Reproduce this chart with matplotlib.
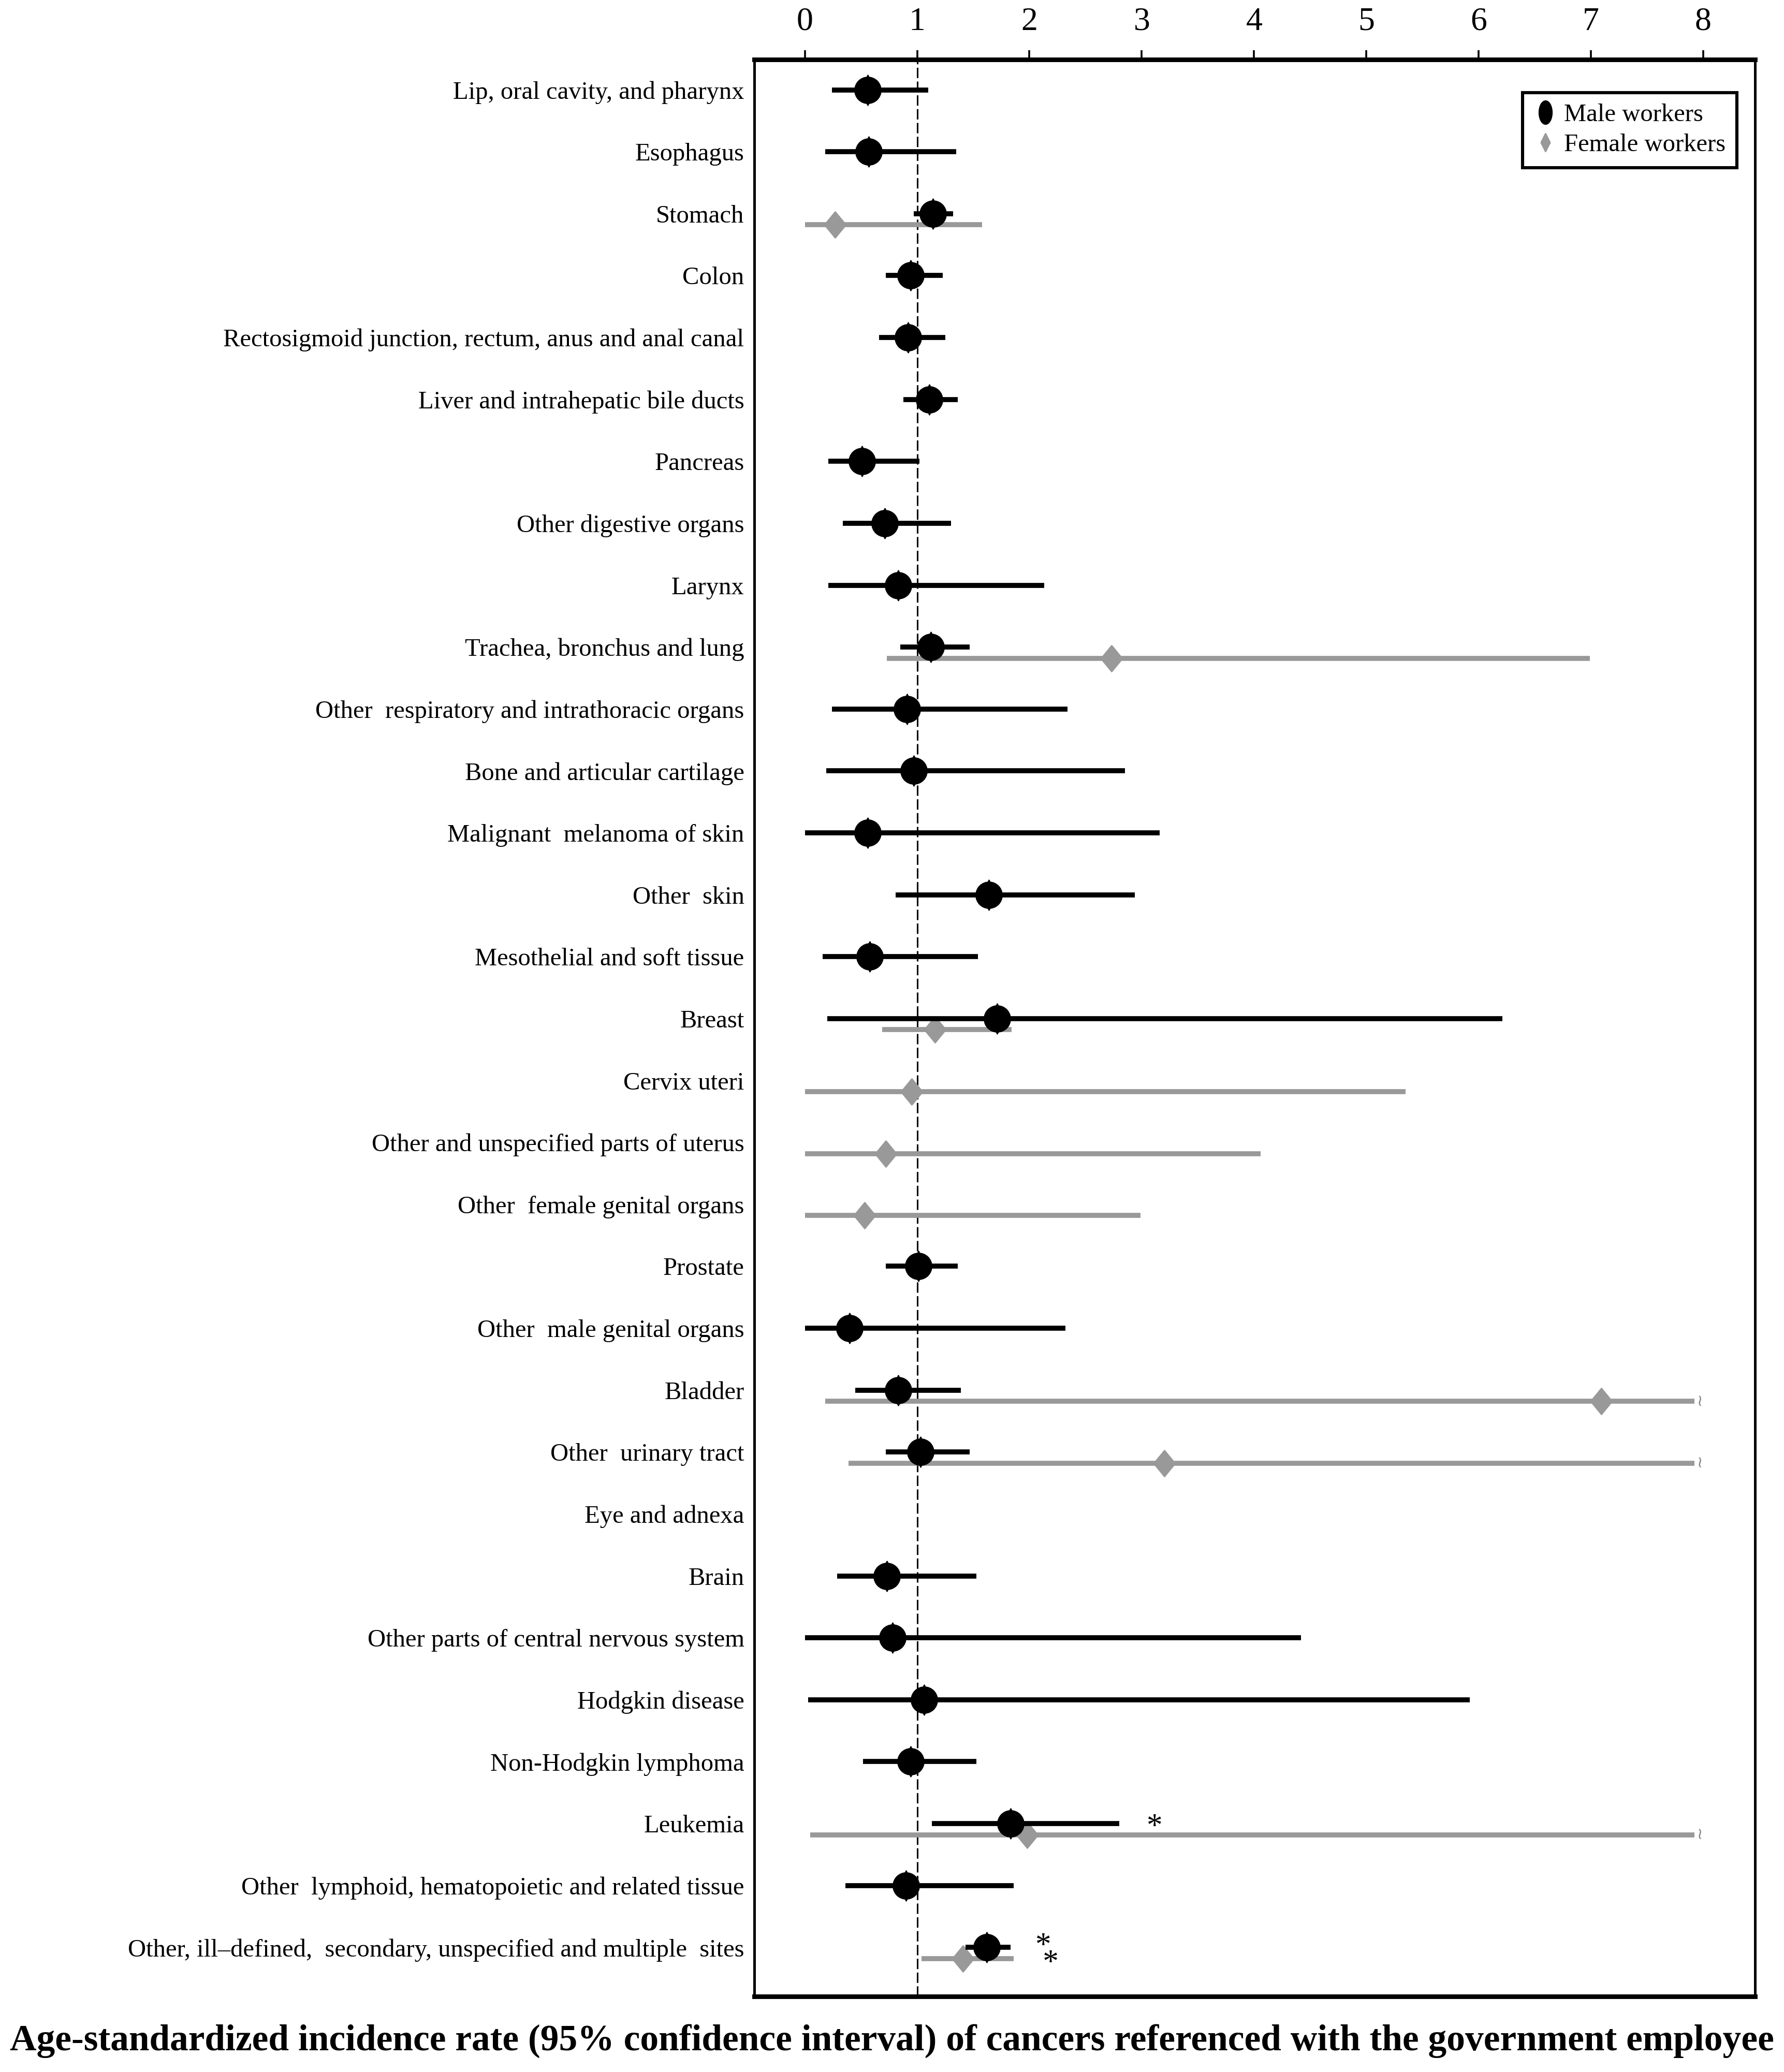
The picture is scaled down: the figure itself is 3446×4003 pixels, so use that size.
import matplotlib

matplotlib.use("Agg")
import matplotlib.pyplot as plt
import numpy as np
from matplotlib.lines import Line2D
from matplotlib.path import Path
from matplotlib.transforms import Affine2D

plt.rcParams["font.family"] = ["Liberation Serif", "DejaVu Serif"]
plt.rcParams["lines.scale_dashes"] = False

# --- data (age-standardized rate ratio, 95% CI) ---
cancer_sites = [
    "Lip, oral cavity, and pharynx",
    "Esophagus",
    "Stomach",
    "Colon",
    "Rectosigmoid junction, rectum, anus and anal canal",
    "Liver and intrahepatic bile ducts",
    "Pancreas",
    "Other digestive organs",
    "Larynx",
    "Trachea, bronchus and lung",
    "Other  respiratory and intrathoracic organs",
    "Bone and articular cartilage",
    "Malignant  melanoma of skin",
    "Other  skin",
    "Mesothelial and soft tissue",
    "Breast",
    "Cervix uteri",
    "Other and unspecified parts of uterus",
    "Other  female genital organs",
    "Prostate",
    "Other  male genital organs",
    "Bladder",
    "Other  urinary tract",
    "Eye and adnexa",
    "Brain",
    "Other parts of central nervous system",
    "Hodgkin disease",
    "Non-Hodgkin lymphoma",
    "Leukemia",
    "Other  lymphoid, hematopoietic and related tissue",
    "Other, ill–defined,  secondary, unspecified and multiple  sites",
]

nan = np.nan
male_rate = [0.56, 0.57, 1.14, 0.94, 0.92, 1.11, 0.51, 0.71, 0.83, 1.12,
             0.91, 0.97, 0.56, 1.64, 0.58, 1.71, nan, nan, nan, 1.01,
             0.40, 0.83, 1.03, nan, 0.73, 0.78, 1.06, 0.94, 1.83, 0.90, 1.62]
male_lower = [0.24, 0.18, 0.97, 0.72, 0.66, 0.88, 0.21, 0.34, 0.21, 0.85,
              0.24, 0.19, 0.00, 0.81, 0.16, 0.20, nan, nan, nan, 0.72,
              0.00, 0.45, 0.72, nan, 0.29, 0.00, 0.03, 0.52, 1.13, 0.36, 1.43]
male_upper = [1.10, 1.35, 1.32, 1.23, 1.25, 1.36, 1.02, 1.30, 2.13, 1.47,
              2.34, 2.85, 3.16, 2.94, 1.54, 6.21, nan, nan, nan, 1.36,
              2.32, 1.39, 1.47, nan, 1.53, 4.42, 5.92, 1.53, 2.80, 1.86, 1.83]

female_rate = [nan, nan, 0.27, nan, nan, nan, nan, nan, nan, 2.73,
               nan, nan, nan, nan, nan, 1.16, 0.95, 0.72, 0.53, nan,
               nan, 7.09, 3.20, nan, nan, nan, nan, nan, 1.98, nan, 1.41]
female_lower = [nan, nan, 0.00, nan, nan, nan, nan, nan, nan, 0.73,
                nan, nan, nan, nan, nan, 0.69, 0.00, 0.00, 0.00, nan,
                nan, 0.18, 0.39, nan, nan, nan, nan, nan, 0.05, nan, 1.04]
female_upper = [nan, nan, 1.58, nan, nan, nan, nan, nan, nan, 6.99,
                nan, nan, nan, nan, nan, 1.84, 5.35, 4.06, 2.99, nan,
                nan, 7.92, 7.92, nan, nan, nan, nan, nan, 7.92, nan, 1.86]

# female intervals cut at the axis edge
female_truncated = ["Bladder", "Other  urinary tract", "Leukemia"]
male_significant = ["Leukemia", "Other, ill–defined,  secondary, unspecified and multiple  sites"]
female_significant = ["Other, ill–defined,  secondary, unspecified and multiple  sites"]

title = ("Age-standardized incidence rate (95% confidence interval) of cancers "
         "referenced with the government employee")

MALE_COLOR = "black"
FEMALE_COLOR = "#999999"
FEMALE_SHIFT = 0.18

# marker shapes: round male point with pointed tips, slim grey diamond
diamond = Path([(0, -1.15), (0.45, 0), (0, 1.15), (-0.45, 0), (0, -1.15)],
               [Path.MOVETO, Path.LINETO, Path.LINETO, Path.LINETO, Path.CLOSEPOLY])
male_marker = Path.make_compound_path(Path.unit_circle(), diamond)
female_marker = Path([(0, -1), (0.82, 0), (0, 1), (-0.82, 0), (0, -1)],
                     [Path.MOVETO, Path.LINETO, Path.LINETO, Path.LINETO, Path.CLOSEPOLY])
legend_male = Path.unit_circle().transformed(Affine2D().scale(0.55, 1.0))
legend_female = Path([(0, -1), (0.5, 0), (0, 1), (-0.5, 0), (0, -1)],
                     [Path.MOVETO, Path.LINETO, Path.LINETO, Path.LINETO, Path.CLOSEPOLY])

fig = plt.figure(figsize=(17.23, 20.015), dpi=200)
ax = fig.add_axes([0.4228, 0.0365, 0.5609, 0.9348])

y = np.arange(len(cancer_sites), dtype=float)
m_rate, m_lo, m_hi = map(np.array, (male_rate, male_lower, male_upper))
f_rate, f_lo, f_hi = map(np.array, (female_rate, female_lower, female_upper))
m_ok = ~np.isnan(m_rate)
f_ok = ~np.isnan(f_rate)
y_f = y + FEMALE_SHIFT

ax.axvline(1, color="black", lw=1.1, dashes=(7.2, 2.4), zorder=1)

ax.hlines(y_f[f_ok], f_lo[f_ok], f_hi[f_ok], color=FEMALE_COLOR, lw=3.5, zorder=2)
ax.plot(f_rate[f_ok], y_f[f_ok], linestyle="none", marker=female_marker,
        ms=18, color=FEMALE_COLOR, zorder=3)

ax.hlines(y[m_ok], m_lo[m_ok], m_hi[m_ok], color=MALE_COLOR, lw=3.5, zorder=4)
ax.plot(m_rate[m_ok], y[m_ok], linestyle="none", marker=male_marker,
        ms=20.7, color=MALE_COLOR, zorder=5)

for i, site in enumerate(cancer_sites):
    if site in female_truncated:
        ax.text(f_hi[i] + 0.05, y_f[i], "≀", color="#888888", fontsize=11,
                ha="center", va="center", family=["DejaVu Sans"])
    in_male = site in male_significant
    in_female = site in female_significant
    if in_male and in_female:
        # two stacked stars, one per sex, kept in a single text
        ax.text(m_hi[i] + 0.22, y[i] + 0.12, "*\n *", fontsize=22, ha="left",
                va="center", multialignment="left", linespacing=0.45)
    elif in_male:
        ax.text(m_hi[i] + 0.24, y[i] + 0.06, "*", fontsize=22, ha="left", va="center")
    elif in_female:
        ax.text(f_hi[i] + 0.24, y_f[i] + 0.06, "*", fontsize=22, ha="left", va="center")

ax.set_xlim(-0.45, 8.46)
ax.set_ylim(len(cancer_sites) - 0.21, -0.49)
ax.xaxis.tick_top()
ax.set_xticks(range(9))
ax.tick_params(axis="x", direction="out", length=6.5, width=1.3, pad=9, labelsize=23)
ax.set_yticks(y, cancer_sites)
ax.tick_params(axis="y", length=0, pad=7, labelsize=17.5)

for side in ("top", "bottom"):
    ax.spines[side].set_linewidth(3.2)
for side in ("left", "right"):
    ax.spines[side].set_linewidth(1.8)

handles = [
    Line2D([], [], linestyle="none", marker=legend_male, ms=16, color=MALE_COLOR),
    Line2D([], [], linestyle="none", marker=legend_female, ms=12.5, color=FEMALE_COLOR),
]
leg = ax.legend(handles, ["Male workers", "Female workers"], loc="upper right",
                bbox_to_anchor=(0.982, 0.983), borderaxespad=0, fontsize=17.5,
                frameon=True, fancybox=False, framealpha=1, edgecolor="black",
                handlelength=0.9, handletextpad=0.3, labelspacing=0.28,
                borderpad=0.45)
leg.get_frame().set_linewidth(2.2)

caption = fig.text(0.5, 0.0107, title, ha="center", va="baseline",
                   fontsize=26, fontweight="bold")
fig.canvas.draw()
width = caption.get_window_extent().width
caption.set_fontsize(26 * 3412 / width)

fig.savefig("out.png", dpi=200)
